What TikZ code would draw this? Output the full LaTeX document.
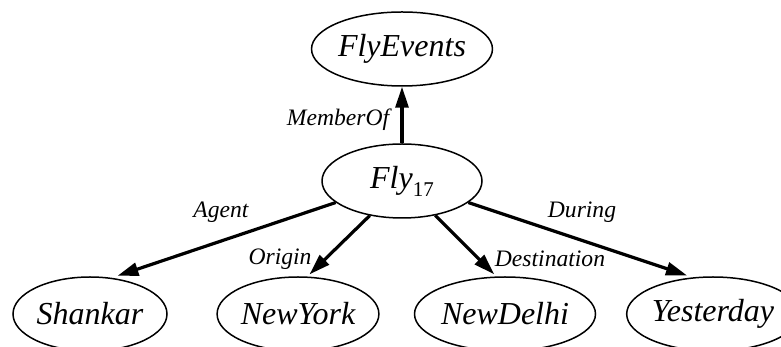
\documentclass[tikz,border=0pt]{standalone}
\usepackage{fontspec}
\setmainfont{Liberation Serif}
\usetikzlibrary{shapes.geometric,arrows.meta}
\tikzset{
  ev_node/.style = {ellipse, draw=black, line width=0.75pt, inner sep=0pt, minimum height=37pt,
                    font=\fontsize{16}{18}\selectfont\itshape},
  rel_arr/.style = {line width=1.6pt, -{Triangle[length=10.5pt,width=6.5pt]}, shorten >=1.5pt},
  rel_lbl/.style = {inner sep=0pt, font=\fontsize{11.8}{13}\selectfont\itshape},
}
\newcommand{\subnum}[1]{\raisebox{-4pt}{\upshape\fontsize{10.5}{10.5}\selectfont #1}}

\begin{document}
\begin{tikzpicture}[x=0.5pt, y=0.5pt]
  \clip (0,0) rectangle (781,347);
  \node [ev_node, minimum width=79pt] (events) at (402,298) {FlyEvents};
  \node [ev_node, minimum width=80pt] (fly) at (402,166) {Fly\subnum{17}};
  \node [ev_node, minimum width=77pt] (shankar) at (90,33) {Shankar};
  \node [ev_node, minimum width=78.5pt] (newyork) at (298,33) {NewYork};
  \node [ev_node, minimum width=77pt] (newdelhi) at (505,33) {NewDelhi};
  \node [ev_node, minimum width=78pt] (yesterday) at (713,33) {Yesterday};

  \draw [rel_arr, shorten >=0pt] (fly.north) -- (events.south);
  \draw [rel_arr, shorten >=3pt] (fly.198) -- (shankar.59);
  \draw [rel_arr] (fly.227) -- (newyork.76);
  \draw [rel_arr] (fly.314) -- (newdelhi.103);
  \draw [rel_arr, shorten >=3pt] (fly.342) -- (yesterday.119);

  \node [rel_lbl] (l_member) at (338,227) {MemberOf};
  \node [rel_lbl] (l_agent) at (221,135) {Agent};
  \node [rel_lbl] (l_origin) at (280,88) {Origin};
  \node [rel_lbl] (l_dest) at (550,88) {Destination};
  \node [rel_lbl] (l_during) at (582,135) {During};
\end{tikzpicture}
\end{document}
